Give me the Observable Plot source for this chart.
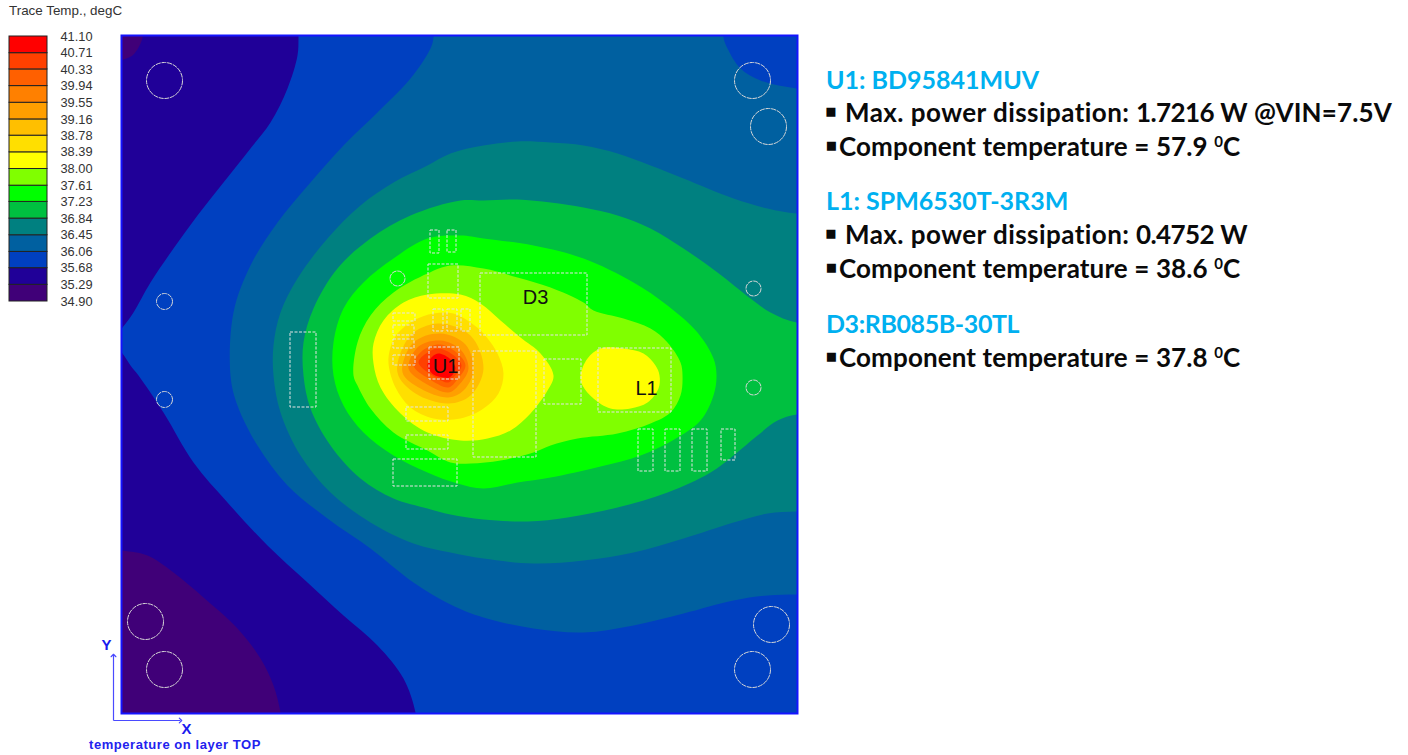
<!DOCTYPE html>
<html>
<head>
<meta charset="utf-8">
<script src="https://cdn.jsdelivr.net/npm/d3@7"></script>
<script src="https://cdn.jsdelivr.net/npm/@observablehq/plot@0.6"></script>
<style>
  html,body{margin:0;padding:0;background:#fff;width:1408px;height:755px;overflow:hidden}
  #page{position:relative;width:1408px;height:755px}
  #page>div.plot{position:absolute}
  .t{position:absolute;white-space:pre;font-family:Lato,sans-serif;font-weight:700;font-size:26px;line-height:30px;color:#0a0a0a;letter-spacing:.12px}
  .h{color:#00b0f0;font-size:25px;letter-spacing:0;line-height:26px}
  .t sup{font-size:15px;line-height:0;vertical-align:9px}
  .t .b{display:inline-block;font-size:26px;line-height:20px;transform:scale(1.15) translateY(-1px)}
  .t .m{letter-spacing:.45px}
  .t .d{letter-spacing:-.6px}
  #legendTitle{position:absolute;left:9px;top:3px;font:13.4px "Liberation Sans",sans-serif;color:#333;white-space:pre}
  #caption{position:absolute;left:89px;top:737px;font:bold 13px "Liberation Sans",sans-serif;letter-spacing:.55px;color:#2222ee;white-space:pre}
</style>
</head>
<body>
<div id="page"></div>
<script>
// Temperature scale (degC)
const levels = [41.10,40.71,40.33,39.94,39.55,39.16,38.78,38.39,38.00,37.61,37.23,36.84,36.45,36.06,35.68,35.29,34.90];
const bandColors = ["#400078","#200098","#0040c0","#0060a0","#008080","#00c040","#00ff00","#80ff00","#ffff00","#ffdf00","#ffbf00","#ff9f00","#ff8000","#ff6000","#ff4000","#ff0000"];

// Isotherm outlines, board units from the top-left corner of the board (board = 676 x 678)
const cornerBottomLeft = [[-20,512],[1,515],[26,520],[52,537],[82,562],[116,593],[139,623],[152,650],[159,677],[162,700],[-20,700]];
const cornerTopLeft = [[21,-10],[21,2],[17,12],[11,20],[2,24],[-10,26],[-10,-10]];
const iso3568 = [[177,-15],[177,2],[176,20],[166,53],[149,87],[129,113],[102,147],[76,180],[52,213],[29,247],[12,277],[1,292],[-11,305],[1,318],[9,330],[17,340],[42,377],[72,427],[106,467],[146,510],[186,547],[222,580],[256,610],[282,643],[294,677],[296,700],[709,700],[709,-25]];
const iso3606 = [[312,-15],[312,2],[309,13],[289,43],[256,77],[222,110],[189,147],[156,187],[129,230],[112,277],[109,340],[116,370],[136,410],[166,450],[206,483],[249,513],[292,547],[329,569],[362,582],[412,593],[462,597],[512,590],[562,578],[612,565],[646,560],[675,559],[709,559],[709,-25]];
const cornerTopRight = [[602,-15],[602,2],[606,13],[619,33],[639,45],[675,53],[709,55],[709,-25]];
const iso3645 = [[675,178],[646,173],[612,163],[562,143],[529,130],[496,118],[462,110],[429,107],[396,106],[362,110],[329,118],[306,130],[272,147],[239,170],[206,203],[176,243],[159,277],[152,310],[152,340],[159,377],[179,420],[209,457],[249,487],[292,508],[329,517],[362,523],[412,528],[462,525],[512,517],[562,503],[612,487],[646,478],[675,476],[709,475],[709,178]];
const iso3684 = [[675,287],[649,277],[629,263],[596,237],[562,213],[529,193],[496,180],[462,172],[429,167],[396,164],[362,165],[339,165],[289,180],[249,203],[216,233],[192,273],[182,307],[182,340],[189,373],[209,410],[239,443],[272,463],[306,473],[329,479],[362,484],[406,486],[446,482],[496,472],[546,457],[589,437],[612,420],[636,400],[656,385],[675,379],[709,377],[709,287]];
const iso3723 = [[339,200],[362,203],[412,210],[462,223],[512,247],[546,270],[576,297],[592,323],[595,340],[592,360],[579,385],[551,405],[519,420],[479,431],[429,442],[396,447],[362,453],[336,448],[306,437],[272,420],[242,397],[222,370],[212,340],[212,307],[222,273],[242,247],[272,223],[306,203]];
const iso3761 = [[329,230],[362,233],[396,242],[429,252],[462,267],[472,275],[502,283],[529,293],[546,307],[559,327],[561,340],[559,360],[549,377],[529,388],[496,398],[456,403],[429,410],[412,417],[379,425],[349,428],[329,427],[306,415],[272,397],[249,373],[236,350],[232,340],[236,307],[249,280],[272,257],[306,238]];
const iso3800U1 = [[306,259],[339,259],[359,268],[379,285],[399,302],[419,318],[432,340],[426,355],[409,378],[389,395],[366,403],[339,405],[306,397],[279,378],[259,352],[252,328],[252,308],[262,285],[282,267]];
const iso3800L1 = [[459,340],[466,323],[479,313],[502,313],[522,318],[534,330],[538,340],[537,353],[526,367],[509,373],[489,373],[472,363],[461,350]];
const iso3839 = [[276,298],[292,285],[312,278],[332,278],[349,287],[362,298],[376,318],[382,338],[377,358],[362,373],[339,383],[312,383],[289,372],[274,352],[267,328],[269,312]];
const iso3878 = [[276,337],[289,300],[317,288],[349,300],[362,333],[349,360],[327,368],[294,358]];
const iso3916 = [[281,337],[292,307],[319,298],[344,309],[352,335],[342,355],[327,362],[299,353]];
const iso3955 = [[287,333],[297,311],[319,305],[339,314],[347,333],[337,350],[327,357],[304,348]];
const iso3994 = [[292,330],[301,315],[319,309],[335,317],[344,330],[335,345],[327,352],[307,343]];
const iso4033 = [[297,327],[306,317],[317,313],[331,319],[340,330],[332,342],[327,347],[311,340]];
const iso4071 = [[306,330],[311,321],[317,318],[328,323],[334,333],[328,342],[322,342],[312,339]];

// Painting order: level is the lower edge of the band inside the outline
const isotherms = [
  [34.90,cornerBottomLeft],[34.90,cornerTopLeft],[35.68,iso3568],[36.06,iso3606],[35.68,cornerTopRight],
  [36.45,iso3645],[36.84,iso3684],[37.23,iso3723],[37.61,iso3761],[38.00,iso3800U1],[38.00,iso3800L1],
  [38.39,iso3839],[38.78,iso3878],[39.16,iso3916],[39.55,iso3955],[39.94,iso3994],[40.33,iso4033],[40.71,iso4071]
];

// Component outlines [x1,y1,x2,y2] and holes [x,y,radius]
const components = [[309,195,318,218],[326,195,335,217],[307,229,337,263],[359,238,466,300],[169,297,195,372],[272,278,294,286],[272,290,293,300],[272,304,293,313],[272,320,294,330],[312,274,322,296],[326,274,336,296],[340,274,349,296],[308,312,338,344],[352,316,415,422],[423,324,460,369],[477,313,550,377],[285,372,327,386],[285,400,327,414],[272,424,336,451],[517,394,532,436],[544,394,559,436],[571,394,586,436],[600,394,614,425]];
const holes = [[43,45,18],[631,45,18],[647,91,18],[276,243,7.5],[43,266,8],[43,364,8],[632,253,7.5],[632,352,7.5],[24,586,18],[43,634,18],[650,589,18],[631,634,18]];
const refdes = [["U1",324,331],["D3",414,262],["L1",525,353]];

// Side notes
const notes = [
  {top:66,cls:"h",text:"U1: BD95841MUV"},
  {top:97,bullet:19,html:"<span class=m>Max. power dissipation:</span> <span class=d>1.7216</span> W @VIN=7.5V"},
  {top:131,bullet:13,html:"Component temperature = 57.9 <sup>0</sup>C"},
  {top:187,cls:"h",text:"L1: SPM6530T-3R3M"},
  {top:219,bullet:19,html:"<span class=m>Max. power dissipation:</span> <span class=d>0.4752</span> W"},
  {top:253,bullet:13,html:"Component temperature = 38.6 <sup>0</sup>C"},
  {top:310,cls:"h",spacing:-.4,text:"D3:RB085B-30TL"},
  {top:342,bullet:13,html:"Component temperature = 37.8 <sup>0</sup>C"}
];

const color = {type:"threshold", domain:levels.slice(1,16).reverse(), range:bandColors};
const outlineRows = isotherms.flatMap(([level,pts],id)=>pts.map(([x,y])=>({id,level,x,y})));
const bands = bandColors.map((c,i)=>({low:levels[16-i],high:levels[15-i]}));

const page = document.getElementById("page");
function place(node,left,top){const d=document.createElement("div");d.className="plot";d.style.left=left+"px";d.style.top=top+"px";d.appendChild(node);page.appendChild(d);}

const legend = Plot.plot({
  width:100,height:290,marginTop:10,marginBottom:15,marginLeft:9,marginRight:53,
  style:{fontSize:"12.8px",fontFamily:"Liberation Sans",color:"#333",background:"transparent"},
  x:{domain:[0,1],axis:null},
  y:{domain:[34.9,41.1]},
  color,
  marks:[
    Plot.rect(bands,{x1:0,x2:1,y1:"low",y2:"high",fill:"low",stroke:"#222",strokeWidth:1}),
    Plot.axisY({anchor:"right",ticks:levels,tickSize:0,tickPadding:13,tickFormat:d3.format(".2f"),textAnchor:"start",label:null})
  ]
});
place(legend,0,26);

const board = Plot.plot({
  width:760,height:730,marginLeft:61,marginRight:23,marginTop:10,marginBottom:42,
  style:{background:"transparent",overflow:"visible"},
  x:{domain:[0,676],axis:null},
  y:{domain:[0,678],reverse:true,axis:null},
  r:{type:"identity"},
  color,
  marks:[
    Plot.rect([{level:35.29}],{x1:0,x2:676,y1:0,y2:678,fill:"level"}),
    Plot.line(outlineRows,{x:"x",y:"y",z:"id",fill:"level",stroke:"none",curve:"catmull-rom-closed",clip:true}),
    Plot.rect(components,{x1:d=>d[0],y1:d=>d[1],x2:d=>d[2],y2:d=>d[3],fill:"none",stroke:"#e4e4e4",strokeWidth:1,strokeDasharray:"3,1.5"}),
    Plot.dot(holes,{x:d=>d[0],y:d=>d[1],r:d=>d[2],fill:"none",stroke:"#d8d8d8",strokeWidth:1,strokeDasharray:"5,0.8"}),
    Plot.text(refdes,{x:d=>d[1],y:d=>d[2],text:d=>d[0],fontSize:20,fontFamily:"Liberation Sans",fill:"#111"}),
    Plot.frame({stroke:"#1414ff",strokeWidth:2}),
    Plot.link([{x1:-8,y1:685,x2:-8,y2:620},{x1:-8,y1:685,x2:59,y2:685}],{x1:"x1",y1:"y1",x2:"x2",y2:"y2",stroke:"#4a4aff",strokeWidth:1.2,markerEnd:"arrow"}),
    Plot.text([["Y",-15,610],["X",65,694]],{x:d=>d[1],y:d=>d[2],text:d=>d[0],fontSize:15,fontWeight:"bold",fontFamily:"Liberation Sans",fill:"#1a1aee"})
  ]
});
place(board,60,25);

const title=document.createElement("div");title.id="legendTitle";title.textContent="Trace Temp., degC";page.appendChild(title);
const cap=document.createElement("div");cap.id="caption";cap.textContent="temperature on layer TOP";page.appendChild(cap);
for(const n of notes){
  const d=document.createElement("div");d.className="t "+(n.cls||"");d.style.left="826px";d.style.top=n.top+"px";
  if(n.spacing)d.style.letterSpacing=n.spacing+"px";
  if(n.text)d.textContent=n.text;
  else d.innerHTML=`<span class="b" style="width:${n.bullet}px">▪</span>`+n.html;
  page.appendChild(d);
}
</script>
</body>
</html>
